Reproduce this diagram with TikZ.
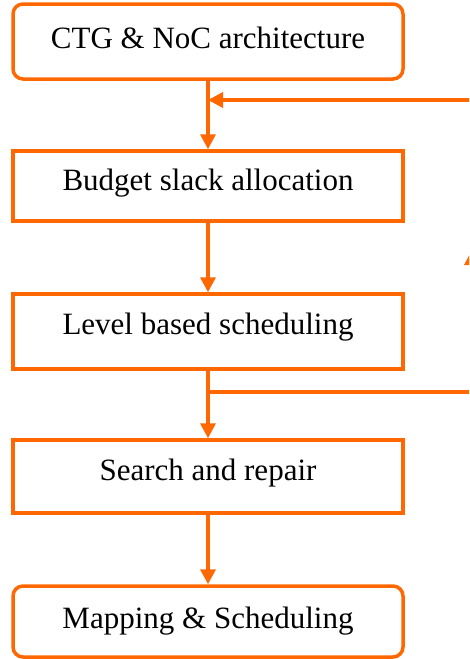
\documentclass[tikz,border=0pt]{standalone}
\usepackage{fontspec}
\setmainfont{Liberation Serif}
\usetikzlibrary{arrows.meta}
\definecolor{flow}{RGB}{255,104,0}
\begin{document}
\begin{tikzpicture}[x=1pt,y=-1pt,
  every node/.style={font=\fontsize{31}{36}\selectfont, text height=21pt},
  stepbox/.style={draw=flow, line width=3.5pt, minimum width=390pt, inner sep=0pt, text depth=#1},
  endbox/.style={stepbox=#1, rounded corners=10pt},
  flowline/.style={draw=flow, line width=3.5pt},
  tip/.style={-{Triangle[length=15pt,width=15pt]}}]
  \useasboundingbox (0,0) rectangle (469,659);
  \clip (0,0) rectangle (469,659);
  % process boxes
  \node[endbox=8pt,  minimum height=75pt] (ctg)    at (208,41.5)  {CTG \& NoC architecture};
  \node[stepbox=13pt, minimum height=70pt] (budget) at (208,186)   {Budget slack allocation};
  \node[stepbox=16pt, minimum height=75pt] (level)  at (208,331.5) {Level based scheduling};
  \node[stepbox=14pt, minimum height=73pt] (search) at (208,476.5) {Search and repair};
  \node[endbox=8pt,  minimum height=71pt] (map)    at (208,621.5) {Mapping \& Scheduling};
  % junction points of the feedback loop
  \coordinate (jin)  at (208,100);
  \coordinate (jout) at (208,392);
  \coordinate (rin)  at (472,100);
  \coordinate (rout) at (472,392);
  \coordinate (rmid) at (472,250);
  % main flow
  \draw[flowline] (ctg.south) -- (jin);
  \draw[flowline,tip] (jin) -- (budget.north);
  \draw[flowline,tip] (budget.south) -- (level.north);
  \draw[flowline] (level.south) -- (jout);
  \draw[flowline,tip] (jout) -- (search.north);
  \draw[flowline,tip] (search.south) -- (map.north);
  % feedback loop
  \draw[flowline,tip] (jout) -- (rout) -- (rmid);
  \draw[flowline,tip] (rmid) -- (rin) -- (jin);
\end{tikzpicture}
\end{document}
